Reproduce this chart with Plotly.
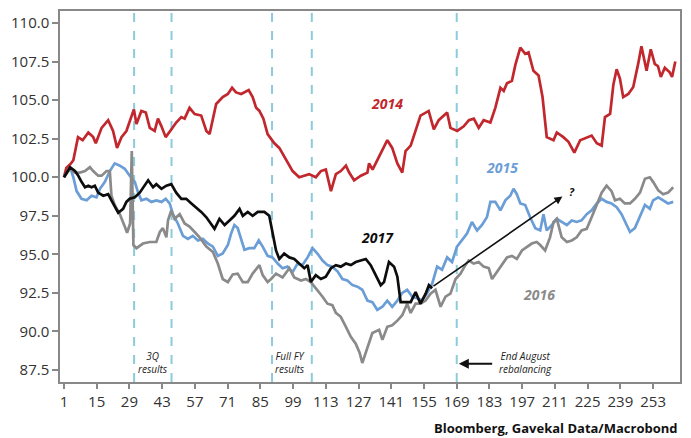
import plotly.graph_objects as go

# ---------------- data ----------------
days_2014 = [1, 2, 4, 5, 7, 9, 11.4, 13.5, 14.6, 17.1, 19.9, 22, 23.7, 25.6, 27.7, 30.9, 32, 34.1, 36, 37.7,
             39.8, 41.2, 42.7, 44.5, 46.9, 49, 51.2, 52.6, 54.7, 56.9, 59.7, 61.9, 63.3, 64.7, 66.1, 68.9,
             71.1, 72.9, 74.6, 76.8, 80, 81.7, 83.2, 84.6, 86.3, 88.1, 91, 93.1, 96, 98.8, 101.6, 103.5,
             105.9, 108.7, 110.9, 113, 115.2, 117.3, 119.4, 121.6, 123, 125.1, 128, 130.8, 131.5, 133, 135,
             137.2, 139.3, 141.4, 143.6, 145.7, 147.1, 149.3, 151.4, 153.5, 157, 159.2, 161.3, 164.9, 166.3,
             169.2, 172, 174.2, 176.3, 178.4, 180.5, 183.4, 185.5, 187.7, 189.1, 190.5, 192.6, 194.1, 196.2,
             198.3, 199.7, 201.8, 204, 205.7, 207.5, 210.4, 211.8, 214.6, 216.8, 219.3, 221.8, 224.6, 226.7,
             228.9, 231, 232.4, 234.6, 236, 237.4, 238.8, 240.2, 242.4, 244.5, 246.6, 248, 250.2, 252, 253.7,
             255.1, 256.3, 258, 260.1, 261.1, 262.5]
vals_2014 = [100.0, 100.6, 100.9, 101.1, 102.6, 102.4, 102.9, 102.6, 102.2, 103.2, 103.7, 103.0, 101.9, 102.6,
             103.0, 104.4, 103.45, 104.3, 104.2, 103.2, 103.0, 103.8, 103.3, 102.6, 103.1, 103.55, 103.9, 103.8,
             104.5, 104.1, 104.0, 103.0, 102.8, 103.9, 104.75, 105.2, 105.4, 105.8, 105.5, 105.4, 105.65, 105.2,
             104.5, 104.3, 103.8, 102.8, 102.2, 101.9, 101.1, 100.4, 100.0, 100.1, 100.2, 100.0, 100.4, 100.5,
             99.1, 100.2, 100.4, 100.75, 100.3, 99.8, 100.1, 100.3, 100.9, 100.5, 101.1, 101.8, 102.4, 101.9,
             100.9, 100.3, 101.7, 102.05, 103.0, 104.0, 104.3, 103.1, 103.7, 104.2, 103.2, 103.0, 103.3, 103.7,
             103.8, 103.2, 103.7, 103.55, 104.5, 105.8, 105.6, 106.1, 106.25, 107.3, 108.4, 108.0, 108.1, 106.9,
             106.6, 105.2, 102.6, 102.4, 102.9, 102.6, 102.3, 101.6, 102.4, 102.6, 102.7, 102.2, 102.05, 103.9,
             104.1, 106.0, 107.0, 106.4, 105.2, 105.4, 105.85, 107.35, 108.5, 106.9, 108.3, 107.35, 107.2, 106.5,
             107.1, 106.8, 106.5, 107.5]

days_2015 = [1, 3.6, 5, 6.4, 8.5, 10.7, 12.8, 14.9, 16.4, 18.5, 20.6, 22.7, 24.9, 27, 29.1, 31.3, 32.7, 34.1,
             36.3, 38.4, 40.5, 42.7, 44.5, 46.2, 47.6, 49.7, 51.9, 54, 56.1, 58.3, 60.4, 62.5, 64.7, 66.8, 68.9,
             71.1, 72.5, 73.9, 75.3, 76.8, 78.2, 80.3, 82.4, 84.3, 86, 88.1, 90.2, 92.4, 94.5, 96.6, 98.8, 100.9,
             103, 105.2, 107.3, 109.4, 111.6, 113.7, 115.8, 118, 120.1, 122.2, 124.4, 126.5, 128.6, 130.8, 132.9,
             135, 137.2, 139.3, 141.4, 143.6, 145.7, 147.8, 150, 152.1, 154.2, 156.4, 158.5, 160.6, 162.7, 164.9,
             167, 169.1, 171.3, 173.4, 175.5, 177.7, 179.8, 181.9, 183.4, 185.5, 187.7, 189.8, 191.9, 193.3,
             194.7, 196.2, 198.3, 200.4, 202.6, 204.7, 206.1, 207.5, 209.7, 211.8, 213.9, 216.1, 218.2, 220.3,
             222.4, 224.6, 226.7, 228.9, 231, 233.1, 235.2, 237.4, 239.5, 241.6, 243.1, 245.2, 247.4, 249.5,
             251.6, 253, 255.2, 257.3, 259.4, 261.6]
vals_2015 = [100.0, 100.65, 100.0, 99.1, 98.6, 98.5, 98.8, 98.7, 99.25, 99.7, 100.4, 100.9, 100.75, 100.55,
             100.1, 99.7, 99.0, 98.5, 98.6, 98.4, 98.5, 98.4, 98.6, 98.3, 97.6, 97.0, 96.2, 96.0, 96.2, 95.9,
             96.0, 95.7, 95.5, 94.9, 95.05, 95.6, 96.35, 96.9, 96.7, 95.9, 95.3, 95.4, 95.4, 95.9, 95.5, 94.9,
             94.8, 94.4, 94.1, 94.2, 93.85, 94.4, 94.3, 94.8, 95.4, 95.05, 94.6, 94.3, 94.2, 93.9, 93.4, 93.3,
             93.0, 92.9, 92.7, 92.0, 91.9, 91.4, 91.6, 92.0, 91.6, 92.0, 92.5, 92.7, 92.25, 92.15, 92.0, 92.5,
             93.1, 94.2, 94.0, 94.8, 94.5, 95.5, 95.9, 96.35, 97.1, 96.55, 96.9, 97.4, 98.4, 98.4, 97.85, 98.5,
             98.8, 99.25, 98.9, 98.3, 98.2, 97.4, 96.7, 96.55, 97.6, 96.55, 96.9, 97.3, 97.1, 96.9, 97.2, 97.1,
             97.2, 97.6, 97.85, 98.3, 98.6, 98.4, 98.3, 98.05, 97.6, 96.9, 96.45, 96.7, 97.5, 98.2, 97.95, 98.5,
             98.7, 98.5, 98.3, 98.4]

days_2016 = [1, 3.6, 5.7, 7.8, 10, 12.1, 13.5, 15.6, 17.1, 19.2, 20.6, 21.3, 22.7, 24.9, 27, 28, 29.3, 30,
             30.7, 32, 34.8, 37.7, 40.5, 42, 43.3, 44.8, 45.5, 46.9, 48.3, 50.5, 52.6, 54.7, 56.9, 59, 61.9,
             64.7, 66.8, 68.9, 71.1, 73.2, 75.3, 77.5, 79.6, 81.7, 84.6, 86, 88.1, 89.6, 91.7, 94.5, 97.4, 99.5,
             102.4, 104.5, 106.6, 109.4, 111.6, 113.7, 115.8, 117.3, 119.4, 121.6, 123.7, 125.8, 127.5, 128.6,
             130.8, 132.9, 135.8, 137.2, 139.3, 141.4, 143.6, 145.7, 147.8, 149.3, 151.4, 153.5, 155.7, 157.8,
             159.9, 162.1, 164.2, 166.3, 168.5, 170.6, 172.7, 174.1, 176.3, 178.4, 180.5, 182.7, 184.1, 186.2,
             188.3, 190.5, 192.6, 194.7, 196.9, 199, 201.1, 203.2, 204.7, 206.8, 208.9, 210.4, 211.8, 213.9,
             216.1, 218.2, 220.3, 222.4, 224.6, 226.7, 228.9, 231, 233.1, 235.2, 236.7, 238.8, 240.9, 243.1,
             245.2, 247.4, 249.5, 251.6, 253, 255.2, 257.3, 259.4, 261.6]
vals_2016 = [100.0, 100.55, 100.3, 100.3, 100.4, 100.65, 100.4, 100.1, 100.1, 100.4, 100.4, 98.8, 98.2, 97.6,
             96.8, 96.4, 97.0, 101.7, 95.6, 95.4, 95.7, 95.8, 95.8, 96.45, 96.7, 96.1, 97.2, 97.85, 97.3, 97.6,
             97.0, 96.8, 96.45, 96.1, 95.5, 95.15, 94.4, 93.4, 93.2, 93.7, 93.75, 93.2, 93.2, 93.75, 94.3, 93.65,
             93.2, 93.4, 93.75, 93.5, 94.1, 93.5, 93.3, 93.4, 93.2, 92.7, 92.25, 91.8, 91.7, 91.2, 90.95, 90.3,
             89.65, 89.2, 88.6, 87.95, 89.0, 89.9, 90.1, 89.45, 90.3, 90.4, 90.7, 91.05, 91.8, 91.2, 91.8, 91.8,
             92.0, 92.45, 92.7, 91.6, 92.25, 92.45, 93.4, 93.75, 94.3, 94.6, 94.4, 94.5, 94.2, 94.1, 93.4, 93.85,
             94.3, 94.8, 94.9, 94.7, 95.25, 95.5, 95.7, 95.8, 95.6, 95.25, 96.1, 97.1, 97.3, 96.1, 95.8, 95.9,
             96.1, 96.55, 96.65, 97.4, 98.2, 99.0, 99.45, 99.1, 98.5, 98.6, 98.3, 98.3, 98.6, 99.0, 99.9, 100.0,
             99.7, 99.15, 98.9, 99.0, 99.35]

days_2017 = [1, 3.6, 5.7, 7.1, 8.5, 10, 11.4, 12.8, 14.2, 15.6, 17.8, 19.9, 21.3, 22.7, 24.2, 26.3, 27.7, 29.1,
             31.3, 33.4, 35.5, 37, 39.1, 40.5, 42.7, 44.8, 46.9, 49, 51.2, 53.3, 55.5, 57.6, 59.7, 61.9, 64, 65.4,
             67.5, 69.7, 71.8, 73.9, 76.1, 77.5, 79.6, 81.7, 83.9, 86.7, 88.8, 90.2, 91.7, 93.1, 95.2, 97.4, 99.5,
             101.6, 103.8, 105.2, 106.6, 108.7, 110.9, 113, 115.2, 117.3, 119.4, 121.6, 123.7, 125.8, 128, 130.1,
             132.2, 134.4, 136.5, 137.9, 140, 142.2, 143.6, 145, 147.1, 149.3, 151.4, 153.5, 155.7, 157.1, 158.5]
vals_2017 = [100.0, 100.65, 100.4, 100.1, 99.7, 99.35, 99.45, 99.35, 99.45, 99.0, 98.8, 98.9, 98.5, 98.15, 97.7,
             97.95, 98.4, 98.6, 98.7, 99.0, 99.45, 99.8, 99.35, 99.55, 99.25, 99.45, 99.55, 99.0, 98.6, 98.6, 98.3,
             98.05, 97.75, 97.4, 96.9, 96.65, 97.3, 96.9, 97.2, 97.5, 97.95, 97.5, 97.75, 97.5, 97.75, 97.75, 97.5,
             96.35, 95.25, 94.7, 95.05, 94.8, 94.7, 94.4, 94.1, 94.3, 93.2, 93.65, 93.4, 93.55, 94.1, 94.3, 94.2,
             94.4, 94.3, 94.5, 94.6, 94.7, 94.3, 93.65, 93.0, 93.2, 94.5, 94.2, 93.55, 91.9, 91.9, 91.9, 92.55,
             91.8, 92.45, 93.0, 92.8]

x_ticks = [1, 15, 29, 43, 57, 71, 85, 99, 113, 127, 141, 155, 169, 183, 197, 211, 225, 239, 253]
y_ticks = [87.5, 90.0, 92.5, 95.0, 97.5, 100.0, 102.5, 105.0, 107.5, 110.0]
y_tick_labels = ["87.5", "90.0", "92.5", "95.0", "97.5", "100.0", "102.5", "105.0", "107.5", "110.0"]

event_days = [31, 47, 90, 107, 169]

series = [
    ("2014", days_2014, vals_2014, "#c1272d"),
    ("2015", days_2015, vals_2015, "#6b9ed6"),
    ("2016", days_2016, vals_2016, "#8a8a8a"),
    ("2017", days_2017, vals_2017, "#0d0d0d"),
]

FONT = "Open Sans"
fig = go.Figure()

for name, xs, ys, col in series:
    fig.add_trace(go.Scatter(x=xs, y=ys, mode="lines", name=name,
                             line=dict(color=col, width=2.7), showlegend=False))

for d in event_days:
    fig.add_shape(type="line", x0=d, x1=d, y0=0, y1=1, xref="x", yref="paper",
                  line=dict(color="#8ccbdc", width=2, dash="dash"), layer="below")

anns = []
# series labels
for txt, x, y, col in [("2014", 139, 104.75, "#c1272d"), ("2015", 188.3, 100.65, "#6b9ed6"),
                       ("2017", 135, 96.1, "#0d0d0d"), ("2016", 204, 92.4, "#8a8a8a")]:
    anns.append(dict(x=x, y=y, text=f"<b><i>{txt}</i></b>", showarrow=False,
                     font=dict(family=FONT, size=14, color=col)))
# event labels
anns.append(dict(x=39, y=88.0, text="<i>3Q<br>results</i>", showarrow=False,
                 font=dict(family=FONT, size=10, color="#222")))
anns.append(dict(x=97.8, y=88.0, text="<i>Full FY<br>results</i>", showarrow=False,
                 font=dict(family=FONT, size=10, color="#222")))
anns.append(dict(x=198.3, y=88.0, text="<i>End August<br>rebalancing</i>", showarrow=False,
                 font=dict(family=FONT, size=10, color="#222")))
# rebalancing arrow
anns.append(dict(x=169.9, y=87.9, ax=184.8, ay=87.9, xref="x", yref="y", axref="x", ayref="y",
                 text="", showarrow=True, arrowhead=2, arrowsize=1, arrowwidth=2, arrowcolor="#111"))
# trend arrow
anns.append(dict(x=214.2, y=98.75, ax=158.4, ay=92.87, xref="x", yref="y", axref="x", ayref="y",
                 text="", showarrow=True, arrowhead=2, arrowsize=1, arrowwidth=1.6, arrowcolor="#111"))
anns.append(dict(x=218.2, y=99.1, text="<b><i>?</i></b>", showarrow=False,
                 font=dict(family=FONT, size=11, color="#111")))
# source
anns.append(dict(x=1.0, y=-0.124, xref="paper", yref="paper", xanchor="right", yanchor="middle",
                 text="<b>Bloomberg, Gavekal Data/Macrobond</b>", showarrow=False,
                 font=dict(family=FONT, size=13, color="#111")))

fig.update_layout(
    width=691, height=438,
    margin=dict(l=60, r=9, t=10, b=56),
    paper_bgcolor="white", plot_bgcolor="white",
    font=dict(family=FONT, size=15, color="#333"),
    annotations=anns,
    xaxis=dict(range=[-0.7, 264.5], tickmode="array", tickvals=x_ticks,
               showgrid=False, zeroline=False, showline=True, linecolor="#888", linewidth=1.5,
               mirror=True, ticks="outside", ticklen=5, tickwidth=1.5, tickcolor="#888",
               tickfont=dict(family=FONT, size=15, color="#333")),
    yaxis=dict(range=[86.72, 110.78], tickmode="array", tickvals=y_ticks, ticktext=y_tick_labels,
               showgrid=False, zeroline=False, showline=True, linecolor="#888", linewidth=1.5,
               mirror=True, ticks="outside", ticklen=6, tickwidth=1.5, tickcolor="#888",
               tickfont=dict(family=FONT, size=15, color="#333")),
)

fig.write_html("out.html", config={"displayModeBar": False},
               post_script="document.body.style.margin='0';document.body.style.overflow='hidden';")
